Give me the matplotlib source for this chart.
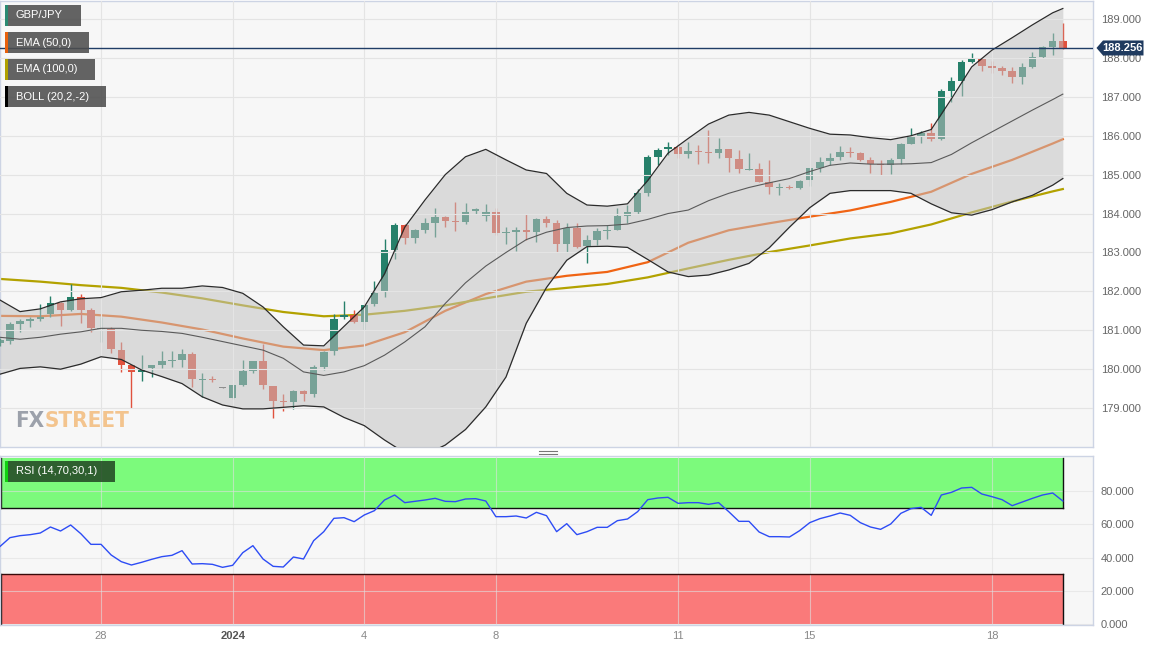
import matplotlib.pyplot as plt
import numpy as np
from matplotlib.patches import Rectangle, Polygon
from matplotlib.lines import Line2D
from matplotlib import transforms

plt.rcParams['font.family'] = ['Liberation Sans', 'DejaVu Sans']

# GBP/JPY 4h candles (open, high, low, close)
opens = [180.68, 180.73, 181.16, 181.24, 181.29, 181.41, 181.69, 181.52, 181.85, 181.52,
         181.04, 181.03, 180.49, 180.10, 179.92, 180.02, 180.10, 180.21, 180.23, 180.39,
         179.73, 179.75, 179.52, 179.27, 179.59, 179.96, 180.21, 179.57, 179.18, 179.15,
         179.45, 179.35, 180.06, 180.47, 181.33, 181.39, 181.22, 181.67, 181.99, 183.06,
         183.70, 183.36, 183.59, 183.77, 183.92, 183.81, 183.79, 184.06, 183.94, 184.03,
         183.51, 183.53, 183.59, 183.52, 183.85, 183.75, 183.21, 183.64, 183.16, 183.32,
         183.56, 183.59, 183.94, 184.03, 184.52, 185.46, 185.65, 185.72, 185.52, 185.61,
         185.59, 185.56, 185.66, 185.40, 185.13, 185.14, 184.82, 184.66, 184.68, 184.65,
         184.86, 185.16, 185.35, 185.46, 185.59, 185.55, 185.38, 185.28, 185.25, 185.39,
         185.80, 186.00, 186.06, 185.92, 187.16, 187.41, 187.90, 187.97, 187.80, 187.73,
         187.66, 187.52, 187.77, 188.03, 188.27, 188.43]
highs = [180.80, 181.20, 181.30, 181.35, 181.67, 181.88, 181.72, 182.18, 181.93, 181.58,
         181.35, 181.09, 180.70, 180.12, 180.36, 180.12, 180.47, 180.47, 180.51, 180.45,
         179.89, 179.82, 179.53, 179.60, 180.23, 180.22, 180.64, 179.58, 179.36, 179.46,
         179.46, 180.12, 180.47, 181.43, 181.75, 181.52, 181.66, 182.26, 183.34, 183.77,
         183.72, 183.60, 183.88, 184.13, 183.94, 184.30, 184.28, 184.14, 184.24, 184.13,
         183.65, 183.66, 184.00, 183.88, 183.94, 183.83, 183.76, 183.76, 183.45, 183.62,
         183.70, 184.13, 184.22, 184.62, 185.51, 185.68, 185.83, 185.80, 185.83, 185.76,
         186.16, 185.93, 185.67, 185.63, 185.55, 185.29, 185.38, 184.79, 184.73, 184.86,
         185.18, 185.46, 185.55, 185.74, 185.72, 185.58, 185.46, 185.38, 185.42, 185.82,
         186.19, 186.13, 186.34, 187.19, 187.52, 187.95, 188.12, 187.98, 187.93, 187.80,
         187.77, 187.86, 188.14, 188.31, 188.63, 188.90]
lows = [180.60, 180.65, 180.96, 181.09, 181.24, 181.35, 181.11, 181.50, 181.18, 180.96,
        180.70, 180.42, 179.93, 178.99, 179.69, 179.80, 180.02, 180.06, 180.06, 179.55,
        179.29, 179.68, 179.51, 179.23, 179.58, 179.89, 179.48, 178.74, 178.92, 178.97,
        179.18, 179.29, 179.98, 180.36, 181.28, 181.18, 181.00, 181.62, 181.85, 182.82,
        183.21, 183.25, 183.49, 183.39, 183.65, 183.55, 183.72, 184.00, 183.81, 183.45,
        183.23, 183.04, 183.32, 183.27, 183.66, 183.02, 183.00, 183.12, 182.74, 183.19,
        183.34, 183.58, 183.76, 184.00, 184.45, 185.25, 185.50, 185.42, 185.44, 185.27,
        185.29, 185.44, 185.07, 185.05, 185.12, 184.80, 184.49, 184.48, 184.62, 184.64,
        184.71, 185.07, 185.25, 185.38, 185.46, 185.36, 185.05, 184.99, 185.02, 185.27,
        185.78, 185.82, 185.87, 185.88, 186.87, 187.03, 187.88, 187.67, 187.60, 187.56,
        187.35, 187.33, 187.75, 188.00, 188.07, 188.24]
closes = [180.75, 181.16, 181.25, 181.30, 181.35, 181.69, 181.52, 181.85, 181.52, 181.05,
          181.06, 180.51, 180.12, 179.92, 180.00, 180.10, 180.21, 180.23, 180.39, 179.74,
          179.75, 179.72, 179.52, 179.59, 179.95, 180.21, 179.59, 179.18, 179.15, 179.45,
          179.35, 180.06, 180.45, 181.30, 181.38, 181.22, 181.65, 181.97, 183.06, 183.70,
          183.36, 183.58, 183.77, 183.92, 183.82, 183.79, 184.05, 184.11, 184.03, 183.51,
          183.53, 183.57, 183.52, 183.85, 183.75, 183.21, 183.64, 183.15, 183.32, 183.56,
          183.59, 183.94, 184.03, 184.52, 185.45, 185.63, 185.72, 185.52, 185.61, 185.58,
          185.56, 185.66, 185.42, 185.14, 185.15, 184.82, 184.67, 184.68, 184.65, 184.84,
          185.16, 185.33, 185.44, 185.59, 185.55, 185.38, 185.28, 185.26, 185.38, 185.80,
          186.00, 186.06, 185.92, 187.16, 187.41, 187.89, 187.97, 187.80, 187.73, 187.67,
          187.52, 187.77, 188.03, 188.27, 188.43, 188.256]
last_price = 188.256

# Bollinger (20,2) read every second bar
boll_x = list(range(0, 105, 2)) + [105]
boll_up = [181.78, 181.48, 181.55, 181.73, 181.81, 181.84, 181.99, 182.03, 182.08, 182.08,
           182.14, 182.10, 181.95, 181.60, 181.09, 180.62, 180.60, 181.10, 181.60, 182.45,
           183.65, 184.35, 185.00, 185.46, 185.65, 185.38, 185.12, 185.03, 184.52, 184.22,
           184.19, 184.25, 184.85, 185.55, 185.93, 186.30, 186.53, 186.60, 186.53, 186.36,
           186.19, 186.04, 186.02, 185.95, 185.90, 186.00, 186.16, 186.95, 187.77, 188.20,
           188.52, 188.85, 189.16, 189.27]
boll_mid = [180.82, 180.77, 180.82, 180.90, 180.96, 181.05, 181.05, 181.00, 180.97, 180.92,
            180.82, 180.71, 180.60, 180.49, 180.28, 179.93, 179.84, 179.93, 180.09, 180.36,
            180.70, 181.09, 181.69, 182.22, 182.65, 183.00, 183.33, 183.52, 183.64, 183.68,
            183.69, 183.73, 183.85, 184.00, 184.09, 184.33, 184.52, 184.67, 184.79, 184.90,
            185.08, 185.24, 185.30, 185.27, 185.27, 185.28, 185.31, 185.52, 185.82, 186.10,
            186.38, 186.66, 186.93, 187.07]
boll_low = [179.87, 180.02, 180.06, 180.00, 180.13, 180.32, 180.25, 179.98, 179.81, 179.63,
            179.29, 179.08, 178.98, 178.98, 179.02, 179.06, 179.03, 178.76, 178.55, 178.18,
            177.85, 177.80, 178.05, 178.45, 179.03, 179.80, 181.18, 182.10, 182.80, 183.15,
            183.16, 183.13, 182.82, 182.50, 182.38, 182.42, 182.55, 182.72, 183.12, 183.65,
            184.15, 184.52, 184.59, 184.59, 184.59, 184.52, 184.25, 184.02, 183.96, 184.10,
            184.30, 184.47, 184.73, 184.90]

# EMAs read every fourth bar
ema_x = list(range(0, 105, 4)) + [105]
ema50 = [181.37, 181.36, 181.42, 181.35, 181.20, 181.02, 180.79, 180.58, 180.49, 180.61,
         180.95, 181.50, 181.93, 182.25, 182.40, 182.50, 182.75, 183.25, 183.57, 183.75,
         183.92, 184.08, 184.30, 184.56, 185.02, 185.38, 185.80, 185.91]
ema100 = [182.32, 182.25, 182.16, 182.09, 181.97, 181.82, 181.64, 181.47, 181.36, 181.40,
          181.50, 181.64, 181.82, 181.99, 182.09, 182.19, 182.36, 182.59, 182.81, 183.01,
          183.18, 183.36, 183.49, 183.72, 184.03, 184.31, 184.57, 184.63]

rsi = [46.6, 52.0, 53.2, 53.8, 54.8, 58.4, 56.0, 59.6, 54.4, 48.0,
       48.0, 41.6, 37.6, 35.6, 37.2, 39.0, 40.6, 41.4, 44.2, 36.2,
       36.4, 36.0, 34.2, 35.4, 43.0, 47.2, 39.2, 34.8, 34.4, 40.4,
       39.2, 50.2, 55.6, 63.6, 64.0, 61.6, 65.6, 68.2, 74.6, 77.6,
       73.0, 73.8, 74.6, 75.6, 73.8, 73.6, 75.2, 75.4, 74.0, 64.6,
       64.6, 65.0, 63.8, 67.2, 65.2, 55.6, 60.4, 53.8, 55.6, 58.2,
       58.2, 62.2, 63.2, 67.6, 74.8, 75.8, 76.2, 72.6, 73.0, 73.0,
       72.0, 73.0, 67.6, 61.8, 61.8, 55.4, 52.6, 52.6, 52.4, 56.2,
       61.0, 63.4, 65.0, 66.8, 65.4, 61.0, 58.4, 57.0, 60.2, 66.6,
       69.4, 70.2, 65.4, 77.6, 79.2, 81.8, 82.2, 78.2, 76.6, 74.8,
       71.2, 73.4, 75.6, 77.6, 78.8, 74.0]

tick_pos = [10, 23, 36, 49, 67, 80, 98]
tick_lab = ['28', '2024', '4', '8', '11', '15', '18']
price_ticks = list(range(179, 190))
rsi_ticks = [0, 20, 40, 60, 80]

legend_names = ['GBP/JPY', 'EMA (50,0)', 'EMA (100,0)', 'BOLL (20,2,-2)']
legend_cols = ['#2a8a72', '#e8600c', '#b0a000', '#000000']

W, H = 1163, 651
fig = plt.figure(figsize=(W / 100, H / 100), dpi=100)
fig.patch.set_facecolor('white')
ax = fig.add_axes([0, 204 / H, 1093 / W, 446.5 / H])
ax2 = fig.add_axes([0, 26 / H, 1093 / W, 169 / H])

UP, DN = '#26806a', '#e0523e'
o = np.array(opens); c = np.array(closes)
hi = np.array(highs); lo = np.array(lows)
idx = np.arange(len(c))

for a in (ax, ax2):
    a.set_facecolor('#f7f7f7')
    for s in a.spines.values():
        s.set_color('#cdd4e4')
        s.set_linewidth(1)
    a.set_xlim(0.02, 107.98)
    a.yaxis.tick_right()
    a.set_xticks(tick_pos)
    a.tick_params(axis='y', length=0, pad=5.5, labelsize=8, labelcolor='#666666')
    a.tick_params(axis='x', length=0)

# ---------- price panel ----------
ax.set_ylim(178.0, 189.476)
ax.set_yticks(price_ticks, ['%.3f' % p for p in price_ticks])
ax.tick_params(axis='x', labelbottom=False)

ax.plot(ema_x, ema50, color='#f06414', lw=1.6, zorder=2)
ax.plot(ema_x, ema100, color='#b3a200', lw=1.6, zorder=2)

col = np.where(c > o, UP, DN).astype(object)
col[c == o] = '#555555'
ax.vlines(idx, lo, hi, colors=list(col), lw=1, zorder=3)
ax.bar(idx, np.maximum(np.abs(c - o), 0.025), bottom=np.minimum(o, c), width=0.74,
       color=list(col), lw=0, zorder=3)

ax.fill_between(boll_x, boll_low, boll_up, color='#c1c1c1', alpha=0.53, lw=0, zorder=4)
for p in price_ticks:
    ax.axhline(p, color='#e4e4e4', lw=0.8, zorder=4.5)
for t in tick_pos:
    ax.axvline(t, color='#e4e4e4', lw=0.8, zorder=4.5)
ax.plot(boll_x, boll_up, color='#2b2b2b', lw=0.9, zorder=5)
ax.plot(boll_x, boll_low, color='#2b2b2b', lw=0.9, zorder=5)
ax.plot(boll_x, boll_mid, color='#5a5a5a', lw=0.8, zorder=5)

ax.axhline(last_price, color='#203d66', lw=1, zorder=6)
bt = transforms.blended_transform_factory(ax.transAxes, ax.transData)
dy = 7.5 / 38.9
ax.add_patch(Polygon([(1096.5 / 1093, last_price), (1103 / 1093, last_price + dy),
                      (1143.5 / 1093, last_price + dy), (1143.5 / 1093, last_price - dy),
                      (1103 / 1093, last_price - dy)], closed=True, transform=bt,
                     facecolor='#1f3a5f', edgecolor='none', clip_on=False, zorder=20))
ax.text(1122 / 1093, last_price, '%.3f' % last_price, transform=bt, color='white',
        fontsize=8, fontweight='bold', ha='center', va='center', zorder=21, clip_on=False)

# watermark
wm = dict(fontsize=16, fontweight='bold', fontstretch='condensed', family='DejaVu Sans')
t1 = ax.text(15 / 1093, 20 / 446.5, 'FX', transform=ax.transAxes, color='#9ca1ab',
             va='baseline', ha='left', zorder=1, **wm)
ax.annotate('STREET', xy=(1, 0), xycoords=t1, color='#f3c48e', va='bottom', ha='left',
            zorder=1, **wm)

# ---------- RSI panel ----------
ax2.set_ylim(-0.4, 101)
ax2.set_yticks(rsi_ticks, ['%.3f' % v for v in rsi_ticks])
ax2.set_xticks(tick_pos, tick_lab)
ax2.tick_params(axis='x', pad=4, labelsize=8, labelcolor='#888888')
for lab in ax2.get_xticklabels():
    if lab.get_text() == '2024':
        lab.set_fontweight('bold')
        lab.set_color('#555555')

last = len(rsi) - 1
ax2.fill_between([0, last], 70, 100, color='#7cfa7c', lw=0, zorder=1)
ax2.fill_between([0, last], 0, 30, color='#fa7a7a', lw=0, zorder=1)
for v in rsi_ticks:
    ax2.axhline(v, color='#e0e0e0', lw=0.8, alpha=0.6, zorder=1.5)
for t in tick_pos:
    ax2.axvline(t, color='#e0e0e0', lw=0.8, alpha=0.6, zorder=1.5)
ax2.plot([0, last], [70, 70], color='#111111', lw=1, zorder=2)
ax2.plot([0, last], [30, 30], color='#3a0a0a', lw=1, zorder=2)
for xe in (0.1, last):
    ax2.plot([xe, xe], [70, 100], color='#111111', lw=1, zorder=2)
    ax2.plot([xe, xe], [0, 30], color='#111111', lw=1, zorder=2)
ax2.plot(idx, rsi, color='#2d4cf5', lw=1, zorder=3)


# ---------- legend boxes ----------
def fig_rect(x0, y0, w, h, color, alpha=1.0):
    fig.add_artist(Rectangle((x0 / W, 1 - (y0 + h) / H), w / W, h / H,
                             transform=fig.transFigure, facecolor=color,
                             edgecolor='none', alpha=alpha, zorder=10))


box_w = [76, 84, 90, 101]
for k, name in enumerate(legend_names):
    y0 = 5 + 27 * k
    fig_rect(5, y0, box_w[k], 21, '#4e4e4e', 0.88)
    fig_rect(5, y0, 2.5, 21, legend_cols[k])
    fig.text(16 / W, 1 - (y0 + 10.5) / H, name, color='white', fontsize=8,
             ha='left', va='center', zorder=11)

fig_rect(5, 461, 110, 21, '#244a25', 0.88)
fig_rect(5, 461, 2.5, 21, '#10d010')
fig.text(16 / W, 1 - 471.5 / H, 'RSI (14,70,30,1)', color='white', fontsize=8,
         ha='left', va='center', zorder=11)

# panel resize handle
for yy in (451, 454):
    fig.add_artist(Line2D([539 / W, 557 / W], [1 - yy / H, 1 - yy / H],
                          color='#777777', lw=0.8))

fig.savefig('out.png', dpi=100)
